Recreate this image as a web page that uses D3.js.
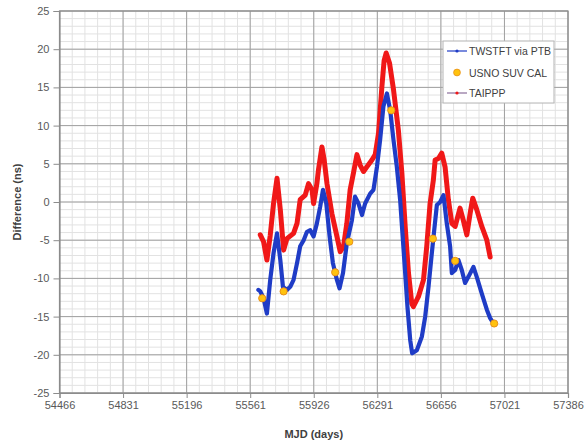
<!DOCTYPE html>
<html>
<head>
<meta charset="utf-8">
<script src="https://cdn.jsdelivr.net/npm/d3@7"></script>
<style>
  html, body { margin: 0; padding: 0; background: #fff; }
  svg { display: block; font-family: "Liberation Sans", Arial, sans-serif; }
</style>
</head>
<body>
<svg id="chart" width="584" height="444"></svg>
<script>
// MJD tick positions (days) and difference ticks (ns)
const xTicks = [54466, 54831, 55196, 55561, 55926, 56291, 56656, 57021, 57386];
const yTicks = [-25, -20, -15, -10, -5, 0, 5, 10, 15, 20, 25];

// TWSTFT via PTB: [MJD, difference ns]
const twstftMjd = [55608, 55619, 55638, 55657, 55676, 55695, 55715, 55734, 55749, 55772,
  55791, 55810, 55830, 55848, 55868, 55887, 55906, 55925, 55944, 55963,
  55979, 55998, 56017, 56036, 56059, 56074, 56094, 56116, 56145, 56163,
  56183, 56203, 56221, 56250, 56269, 56289, 56307, 56326, 56346, 56365,
  56384, 56403, 56422, 56438, 56451, 56464, 56480, 56491, 56518, 56547,
  56566, 56585, 56604, 56614, 56633, 56652, 56671, 56690, 56709, 56719,
  56738, 56757, 56776, 56795, 56814, 56843, 56862, 56891, 56920, 56939, 56950];
const twstftNs = [-11.5, -11.7, -12.6, -14.6, -10.2, -6.7, -4.1, -7.6, -11.1, -11.5,
  -11.1, -10.2, -8.0, -5.8, -5.0, -3.9, -3.7, -4.5, -2.8, -0.6,
  1.6, -0.2, -4.5, -8.0, -10.2, -11.3, -9.3, -5.4, -2.4, 0.7,
  -0.2, -1.7, -0.2, 1.1, 1.6, 4.6, 8.1, 12.5, 14.2, 12.0,
  8.1, 4.6, 0.3, -5.0, -9.3, -13.7, -18.1, -19.8, -19.4, -17.6,
  -15.0, -11.1, -6.7, -4.5, -0.4, 0.0, 0.9, -2.8, -5.8, -9.3,
  -8.9, -7.6, -8.9, -10.6, -9.8, -8.5, -9.8, -12.0, -14.1, -15.2, -15.6];

// TAIPPP: [MJD, difference ns]
const taipppMjd = [55619, 55638, 55657, 55676, 55695, 55715, 55734, 55753, 55772, 55810,
  55830, 55848, 55877, 55896, 55916, 55925, 55944, 55953, 55973, 55986,
  56002, 56030, 56059, 56078, 56097, 56116, 56135, 56154, 56174, 56193,
  56212, 56231, 56260, 56279, 56298, 56317, 56330, 56342, 56361, 56384,
  56412, 56432, 56451, 56470, 56489, 56498, 56527, 56556, 56575, 56594,
  56613, 56623, 56642, 56661, 56680, 56699, 56719, 56738, 56766, 56785,
  56805, 56824, 56839, 56862, 56891, 56920, 56939];
const taipppNs = [-4.3, -5.2, -7.6, -4.4, -0.2, 3.1, -1.0, -6.3, -4.8, -4.1,
  -2.8, 0.3, 0.9, 2.4, 1.6, -0.2, 2.4, 4.2, 7.2, 5.5,
  2.4, -1.5, -4.5, -6.5, -5.8, -2.8, 1.6, 3.8, 6.2, 4.8,
  4.0, 4.6, 5.5, 6.2, 9.0, 15.0, 18.5, 19.5, 18.2, 14.7,
  9.4, 3.8, -3.2, -9.3, -13.3, -13.7, -12.4, -10.2, -5.8, -0.2,
  2.9, 5.5, 5.7, 6.4, 4.6, 0.3, -2.8, -3.2, -0.8, -2.4,
  -4.3, -1.5, 0.5, -1.0, -3.2, -5.0, -7.2];

// USNO SUV CAL calibration points
const calMjd = [55630, 55753, 56049, 56130, 56371, 56610, 56738, 56962];
const calNs = [-12.6, -11.7, -9.2, -5.2, 12.0, -4.8, -7.7, -15.9];

const legendLabels = ["TWSTFT via PTB", "USNO SUV CAL", "TAIPPP"];

const svg = d3.select("#chart");
const plot = { left: 59.5, right: 568, top: 11, bottom: 393 };

const x = d3.scaleLinear().domain([54466, 57386]).range([plot.left, plot.right]);
const y = d3.scaleLinear().domain([-25, 25]).range([plot.bottom, plot.top]);

// minor grid: 1/5 of each major step
const minorX = d3.range(54466, 57386 + 1, 73);
const minorY = d3.range(-25, 25.01, 1);

const grid = svg.append("g");
grid.selectAll(".mx").data(minorX).join("line")
  .attr("x1", d => x(d)).attr("x2", d => x(d))
  .attr("y1", plot.top).attr("y2", plot.bottom)
  .attr("stroke", "#e2e2e2").attr("stroke-width", 1);
grid.selectAll(".my").data(minorY).join("line")
  .attr("x1", plot.left).attr("x2", plot.right)
  .attr("y1", d => y(d)).attr("y2", d => y(d))
  .attr("stroke", "#e2e2e2").attr("stroke-width", 1);
grid.selectAll(".Mx").data(xTicks).join("line")
  .attr("x1", d => x(d)).attr("x2", d => x(d))
  .attr("y1", plot.top).attr("y2", plot.bottom)
  .attr("stroke", "#a0a0a0").attr("stroke-width", 1);
grid.selectAll(".My").data(yTicks).join("line")
  .attr("x1", plot.left).attr("x2", plot.right)
  .attr("y1", d => y(d)).attr("y2", d => y(d))
  .attr("stroke", "#a0a0a0").attr("stroke-width", 1);

// plot frame
svg.append("rect")
  .attr("x", plot.left).attr("y", plot.top)
  .attr("width", plot.right - plot.left).attr("height", plot.bottom - plot.top)
  .attr("fill", "none").attr("stroke", "#8c8c8c").attr("stroke-width", 1.2);

// axes
const xAxis = svg.append("g")
  .attr("transform", `translate(0,${plot.bottom})`)
  .call(d3.axisBottom(x).tickValues(xTicks).tickFormat(d3.format("d")).tickSize(5).tickPadding(3));
const yAxis = svg.append("g")
  .attr("transform", `translate(${plot.left},0)`)
  .call(d3.axisLeft(y).tickValues(yTicks).tickFormat(d => d < 0 ? "-" + Math.abs(d) : d).tickSize(6).tickPadding(4));
[xAxis, yAxis].forEach(g => {
  g.select(".domain").attr("stroke", "#8c8c8c").attr("stroke-width", 1.2);
  g.selectAll(".tick line").attr("stroke", "#8c8c8c");
  g.selectAll(".tick text").attr("fill", "#595959").attr("font-size", 11)
    .attr("font-family", "'Liberation Sans', Arial, sans-serif");
});

// axis titles
svg.append("text").attr("x", (plot.left + plot.right) / 2).attr("y", 438)
  .attr("text-anchor", "middle").attr("font-size", 11).attr("font-weight", "bold")
  .attr("fill", "#404040").text("MJD (days)");
svg.append("text").attr("transform", `translate(21,${y(0)}) rotate(-90)`)
  .attr("text-anchor", "middle").attr("font-size", 11).attr("font-weight", "bold")
  .attr("fill", "#404040").text("Difference (ns)");

const line = d3.line().x(d => x(d[0])).y(d => y(d[1])).curve(d3.curveLinear);
const taippp = taipppMjd.map((m, i) => [m, taipppNs[i]]);
const twstft = twstftMjd.map((m, i) => [m, twstftNs[i]]);
const cal = calMjd.map((m, i) => [m, calNs[i]]);

const series = svg.append("g");
series.append("path").datum(taippp).attr("d", line)
  .attr("fill", "none").attr("stroke", "#f01818").attr("stroke-width", 5)
  .attr("stroke-linejoin", "round").attr("stroke-linecap", "round");
series.append("path").datum(twstft).attr("d", line)
  .attr("fill", "none").attr("stroke", "#1f3cc6").attr("stroke-width", 4.2)
  .attr("stroke-linejoin", "round").attr("stroke-linecap", "round");
series.selectAll("circle.cal").data(cal).join("circle")
  .attr("class", "cal")
  .attr("cx", d => x(d[0])).attr("cy", d => y(d[1])).attr("r", 3.6)
  .attr("fill", "#ffc20e").attr("stroke", "#e8901a").attr("stroke-width", 1);

// legend
const lg = svg.append("g");
lg.append("rect").attr("x", 443).attr("y", 41).attr("width", 111).attr("height", 62)
  .attr("fill", "#fff").attr("stroke", "#b4b4b4").attr("stroke-width", 1);
const rows = [51, 72.5, 93];
// TWSTFT sample
lg.append("line").attr("x1", 447).attr("x2", 467).attr("y1", rows[0]).attr("y2", rows[0])
  .attr("stroke", "#1f3cc6").attr("stroke-width", 1.2);
lg.append("circle").attr("cx", 457).attr("cy", rows[0]).attr("r", 1.6).attr("fill", "#1f3cc6");
// calibration sample
lg.append("circle").attr("cx", 457).attr("cy", rows[1]).attr("r", 3.4)
  .attr("fill", "#ffc20e").attr("stroke", "#e8901a").attr("stroke-width", 0.8);
// TAIPPP sample
lg.append("line").attr("x1", 447).attr("x2", 467).attr("y1", rows[2]).attr("y2", rows[2])
  .attr("stroke", "#8a6d9a").attr("stroke-width", 1.2);
lg.append("circle").attr("cx", 457).attr("cy", rows[2]).attr("r", 1.6).attr("fill", "#f01818");
lg.selectAll("text.lab").data(legendLabels).join("text")
  .attr("class", "lab")
  .attr("x", 469).attr("y", (d, i) => rows[i] + 4)
  .attr("font-size", 10.5).attr("fill", "#404040").text(d => d);
</script>
</body>
</html>
